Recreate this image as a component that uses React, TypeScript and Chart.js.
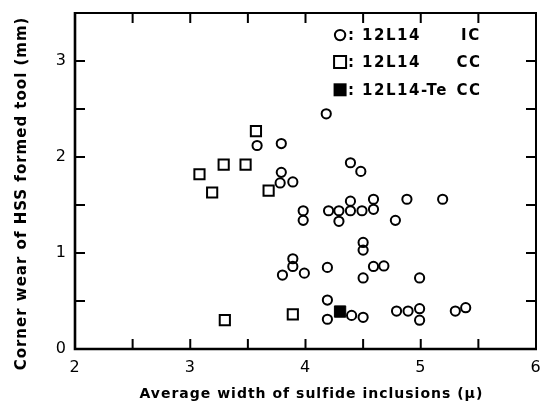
import React, { useEffect, useRef } from "react";
import { Chart, registerables } from "chart.js";

Chart.register(...registerables);

// 12L14 IC (open circles)
const icX = [3.58, 3.79, 3.79, 3.78, 3.89, 3.98, 3.98, 4.18, 4.39, 4.48, 4.2, 4.29, 4.29, 4.39, 4.39, 4.49, 4.59, 4.59, 4.78, 4.88, 5.19, 3.89, 3.89, 3.8, 3.99, 4.19, 4.5, 4.5, 4.59, 4.68, 4.5, 4.99, 4.19, 4.19, 4.4, 4.5, 4.79, 4.89, 4.99, 4.99, 5.3, 5.39];
const icY = [2.12, 2.14, 1.84, 1.73, 1.74, 1.44, 1.34, 2.45, 1.94, 1.85, 1.44, 1.44, 1.33, 1.54, 1.44, 1.44, 1.56, 1.455, 1.34, 1.56, 1.56, 0.94, 0.86, 0.77, 0.79, 0.85, 1.11, 1.03, 0.86, 0.865, 0.74, 0.74, 0.51, 0.31, 0.35, 0.33, 0.395, 0.395, 0.42, 0.3, 0.395, 0.43];
// 12L14 CC (open squares)
const ccX = [3.08, 3.19, 3.29, 3.48, 3.57, 3.68, 3.3, 3.89];
const ccY = [1.82, 1.63, 1.92, 1.92, 2.27, 1.65, 0.3, 0.36];
// 12L14-Te CC (filled square)
const teX = [4.3];
const teY = [0.39];

const xTickLabels = ["2", "3", "4", "5", "6"];
const yTickLabels = ["0", "1", "2", "3"];
const legendRows = [
  { name: "12L14", kind: "IC", marker: "circle" },
  { name: "12L14", kind: "CC", marker: "square" },
  { name: "12L14-Te", kind: "CC", marker: "filled" },
];

const FONT = "'DejaVu Sans', sans-serif";

function pts(xs: number[], ys: number[]) {
  return xs.map((x, i) => ({ x, y: ys[i] }));
}

const framePlugin = {
  id: "frame",
  beforeDraw(chart: any) {
    (chart.ctx as any).letterSpacing = "1px";
  },
  afterDraw(chart: any) {
    const { ctx, chartArea, scales } = chart;
    const { left, right, top, bottom } = chartArea;
    ctx.save();
    ctx.strokeStyle = "#000";
    ctx.lineWidth = 2;
    ctx.beginPath();
    ctx.moveTo(left, top);
    ctx.lineTo(right, top);
    ctx.lineTo(right, bottom);
    ctx.stroke();
    ctx.lineWidth = 2.6;
    ctx.beginPath();
    ctx.moveTo(left, top - 1);
    ctx.lineTo(left, bottom);
    ctx.lineTo(right + 1, bottom);
    ctx.stroke();
    const tl = 10;
    ctx.lineWidth = 2;
    ctx.beginPath();
    for (let v = 2.5; v < 6; v += 0.5) {
      const px = scales.x.getPixelForValue(v);
      ctx.moveTo(px, bottom);
      ctx.lineTo(px, bottom - tl);
      ctx.moveTo(px, top);
      ctx.lineTo(px, top + tl);
    }
    for (let v = 0.5; v < 3.5; v += 0.5) {
      const py = scales.y.getPixelForValue(v);
      ctx.moveTo(left, py);
      ctx.lineTo(left + tl, py);
      ctx.moveTo(right, py);
      ctx.lineTo(right - tl, py);
    }
    ctx.stroke();

    // legend
    const lx = scales.x.getPixelForValue(4.3);
    const rows = [3.27, 2.99, 2.7];
    ctx.fillStyle = "#000";
    ctx.textBaseline = "middle";
    ctx.font = `bold 15px ${FONT}`;
    legendRows.forEach((r, i) => {
      const y = scales.y.getPixelForValue(rows[i]);
      ctx.lineWidth = 2;
      ctx.beginPath();
      if (r.marker === "circle") {
        ctx.arc(lx, y, 5.2, 0, Math.PI * 2);
        ctx.stroke();
      } else if (r.marker === "square") {
        ctx.rect(lx - 6, y - 6, 12, 12);
        ctx.stroke();
      } else {
        ctx.rect(lx - 6.5, y - 6.5, 13, 13);
        ctx.fill();
      }
      (ctx as any).letterSpacing = "1.5px";
      ctx.textAlign = "left";
      ctx.fillText(":", lx + 8, y + 1);
      ctx.fillText(r.name, lx + 22, y + 1);
      ctx.fillText(r.kind, scales.x.getPixelForValue(r.kind === "IC" ? 5.35 : 5.31), y + 1);
      (ctx as any).letterSpacing = "1px";
    });
    ctx.restore();
  },
};

export default function App() {
  const ref = useRef<HTMLCanvasElement | null>(null);
  useEffect(() => {
    if (!ref.current) return;
    const chart = new Chart(ref.current, {
      type: "scatter",
      data: {
        datasets: [
          {
            label: "12L14 IC",
            data: pts(icX, icY),
            pointStyle: "circle",
            pointRadius: 4.6,
            pointBorderWidth: 2,
            borderColor: "#000",
            backgroundColor: "rgba(255,255,255,0)",
          },
          {
            label: "12L14 CC",
            data: pts(ccX, ccY),
            pointStyle: "rect",
            pointRadius: 7.2,
            pointBorderWidth: 2,
            borderColor: "#000",
            backgroundColor: "rgba(255,255,255,0)",
          },
          {
            label: "12L14-Te CC",
            data: pts(teX, teY),
            pointStyle: "rect",
            pointRadius: 8,
            pointBorderWidth: 1,
            borderColor: "#000",
            backgroundColor: "#000",
          },
        ],
      },
      options: {
        animation: false,
        responsive: true,
        maintainAspectRatio: false,
        layout: { padding: { left: 0, right: 10, top: 13, bottom: 0 } },
        plugins: { legend: { display: false }, tooltip: { enabled: false } },
        scales: {
          x: {
            type: "linear",
            min: 2,
            max: 6,
            border: { display: false },
            grid: { display: false, drawTicks: false },
            ticks: {
              stepSize: 1,
              padding: 9,
              color: "#000",
              font: { family: FONT, size: 16 },
              callback: (v: any) => (xTickLabels.includes(String(v)) ? String(v) : ""),
            },
            title: {
              display: true,
              text: "  Average width of sulfide inclusions (μ)",
              color: "#000",
              font: { family: FONT, size: 14, weight: "bold" },
              padding: { top: 0, bottom: 3 },
            },
            afterFit: (s: any) => {
              s.height = 57;
              s.paddingLeft = 0;
              s.paddingRight = 0;
            },
          },
          y: {
            type: "linear",
            min: 0,
            max: 3.5,
            border: { display: false },
            grid: { display: false, drawTicks: false },
            ticks: {
              stepSize: 1,
              padding: 8,
              color: "#000",
              font: { family: FONT, size: 16 },
              callback: (v: any) => (yTickLabels.includes(String(v)) ? String(v) : ""),
            },
            title: {
              display: true,
              text: "Corner wear of HSS formed tool (mm)    ",
              color: "#000",
              font: { family: FONT, size: 15, weight: "bold" },
              padding: { top: 13, bottom: 0 },
            },
            afterFit: (s: any) => {
              s.width = 75;
              s.paddingTop = 0;
              s.paddingBottom = 0;
            },
          },
        },
      },
      plugins: [framePlugin],
    });
    return () => chart.destroy();
  }, []);
  return (
    <div style={{ position: "fixed", left: 0, top: 0, width: 546, height: 406, background: "#fff" }}>
      <canvas ref={ref} />
    </div>
  );
}
